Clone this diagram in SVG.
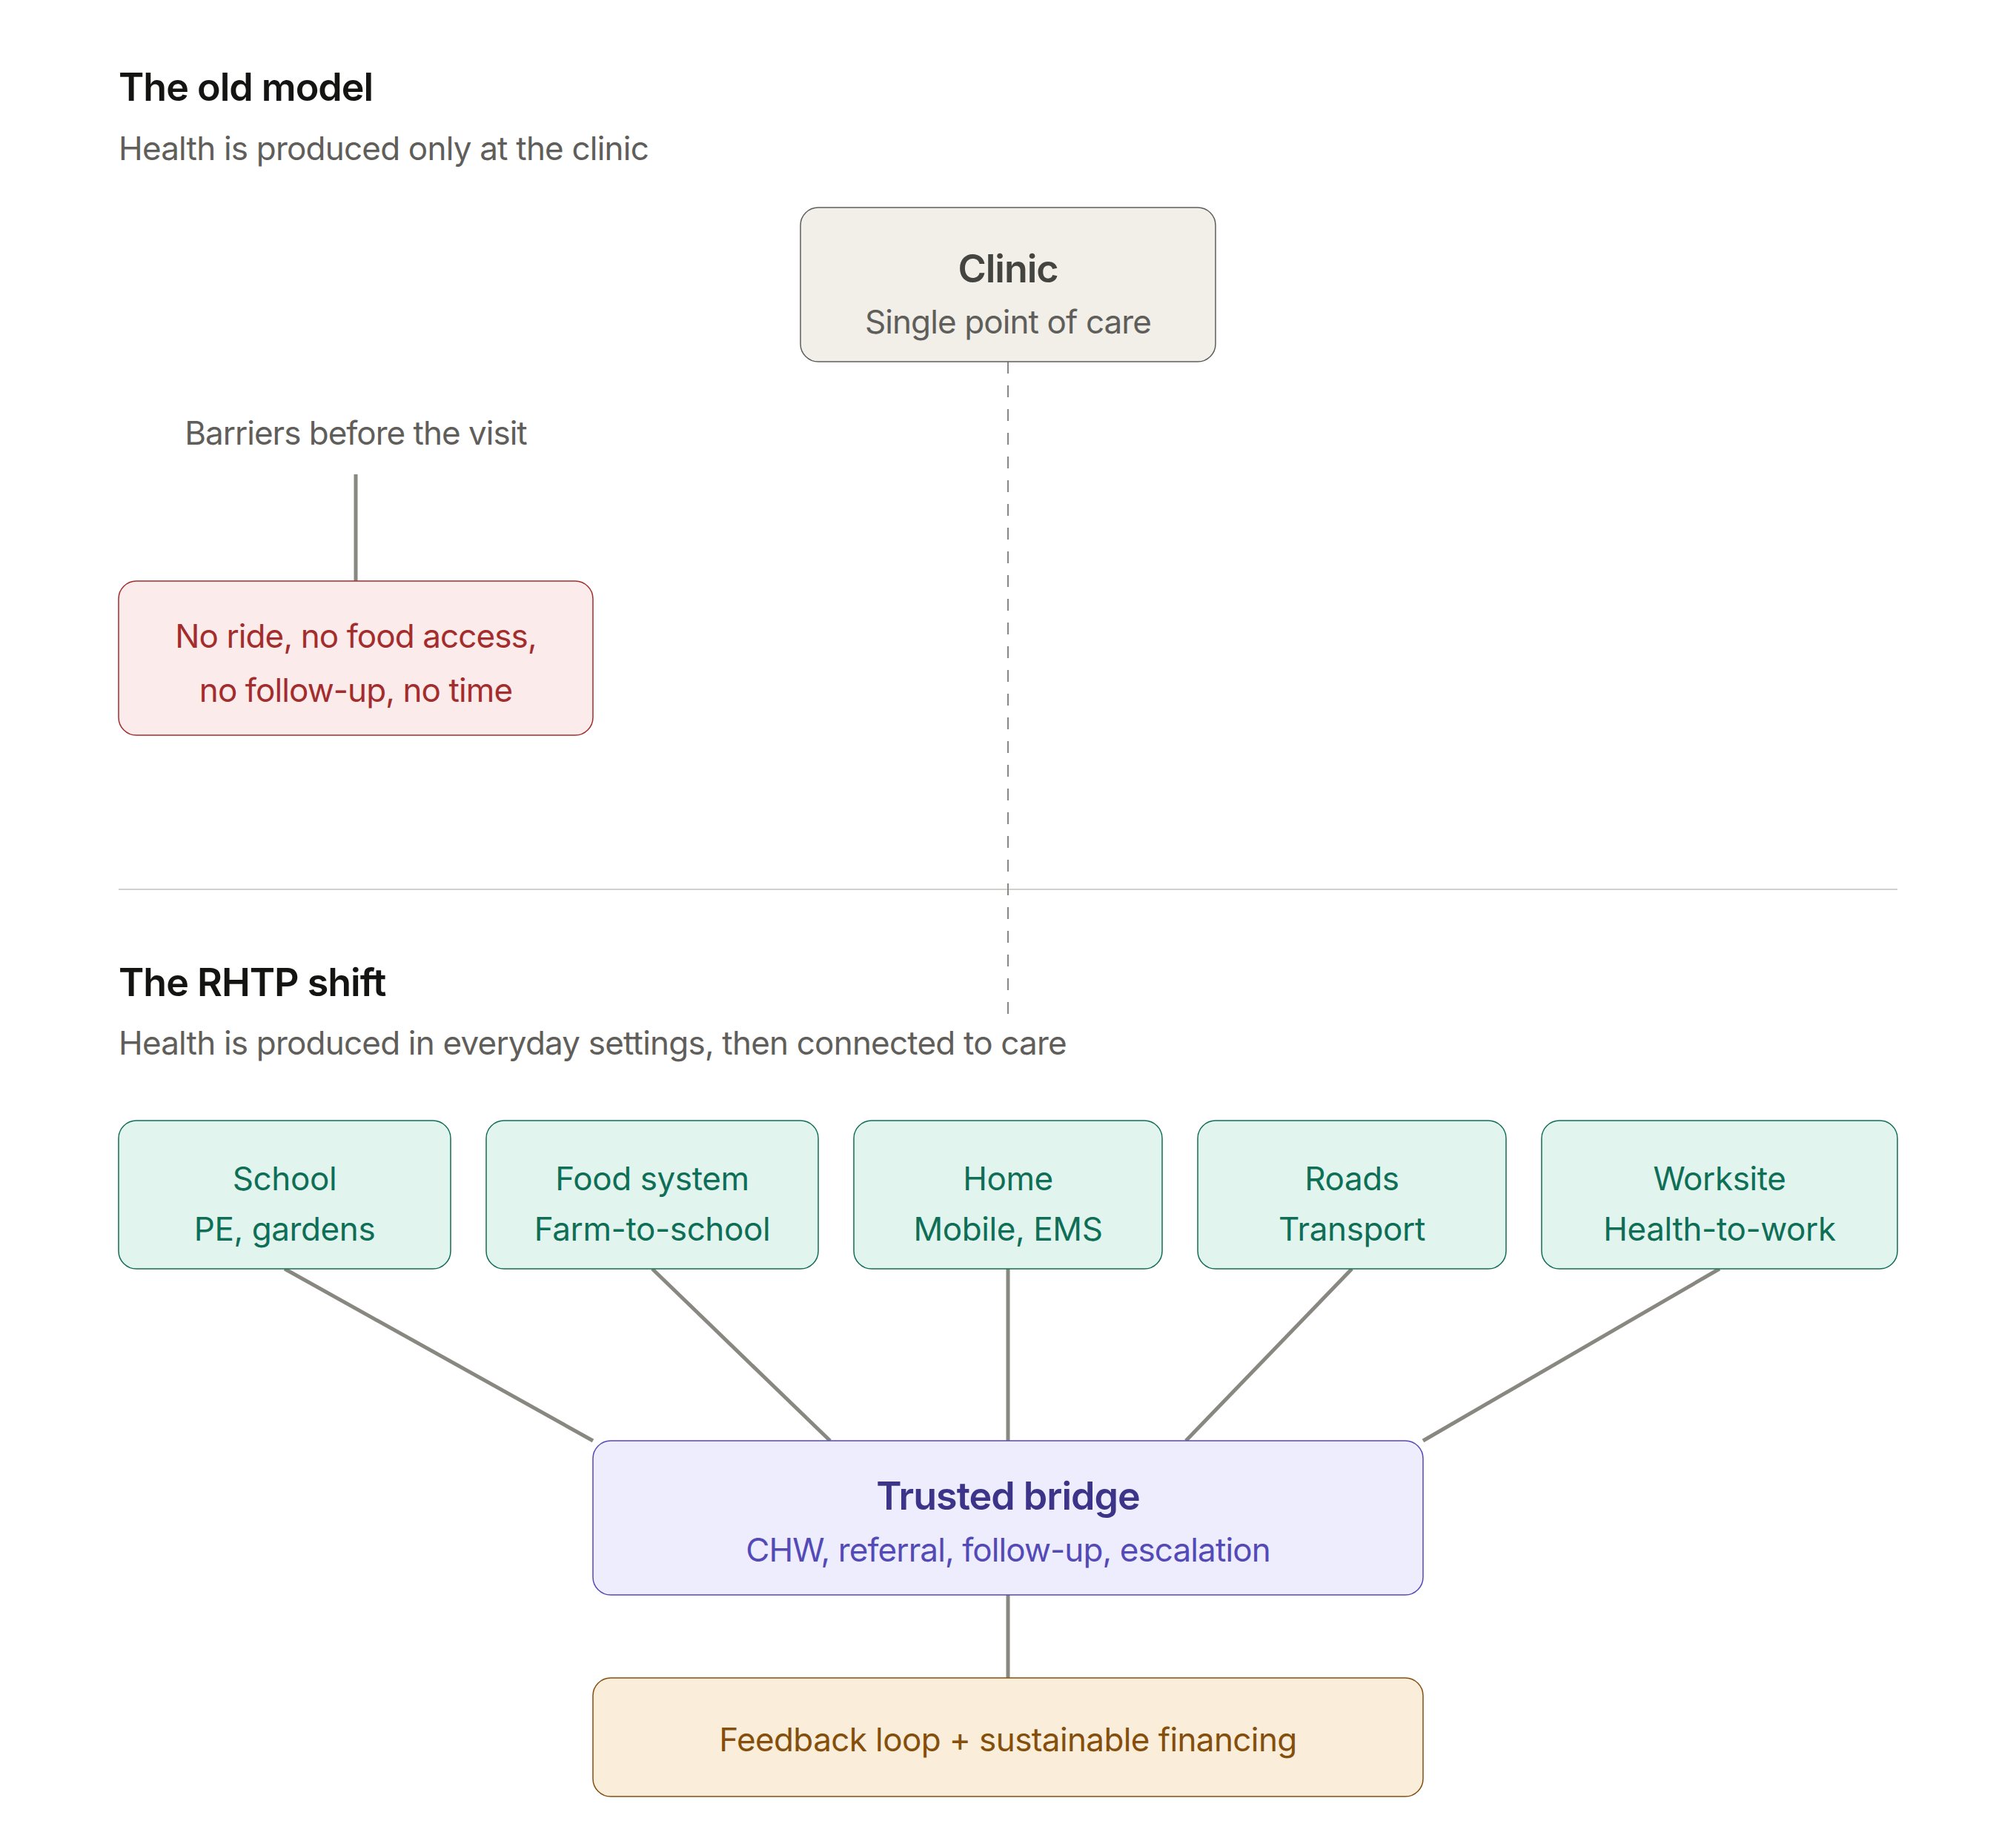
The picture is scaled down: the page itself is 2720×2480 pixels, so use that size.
<svg xmlns="http://www.w3.org/2000/svg" width="2720" height="2480" viewBox="0 0 2720 2480">
<style>
text{font-family:Inter,"Noto Sans","Liberation Sans",sans-serif}
.h{font-size:52px;font-weight:600;fill:#141413;letter-spacing:-1px}
.s{font-size:44px;fill:#5F5E5A;letter-spacing:-0.8px}
.c{text-anchor:middle}
.t{font-size:52px;font-weight:600;letter-spacing:-1px}
.b{font-size:44px;letter-spacing:-0.9px}
.con{stroke:#888780;stroke-width:5;fill:none}
.dash{stroke:#888780;stroke-width:2;stroke-dasharray:16 16;fill:none}
.gray rect{fill:#F1EFE8;stroke:#5F5E5A;stroke-width:1.5}
.red rect{fill:#FCEBEB;stroke:#A32D2D;stroke-width:1.5}
.red text{fill:#A32D2D}
.grn rect{fill:#E1F5EE;stroke:#0F6E56;stroke-width:1.5}
.grn text{fill:#0F6E56;letter-spacing:-0.4px}
.pur rect{fill:#EEEDFE;stroke:#534AB7;stroke-width:1.5}
.amb rect{fill:#FAEEDA;stroke:#854F0B;stroke-width:1.5}
.amb text{fill:#854F0B;letter-spacing:-0.6px}
</style>
<rect width="2720" height="2480" fill="#FFFFFF"/>
<g id="headings">
<text class="h" x="160" y="136">The old model</text>
<text class="s" x="160" y="216">Health is produced only at the clinic</text>
<text class="s c" x="480" y="600" style="letter-spacing:-1px">Barriers before the visit</text>
<line x1="160" y1="1200" x2="2560" y2="1200" stroke="#C4C2BA" stroke-width="1.5"/>
<text class="h" x="160" y="1344">The RHTP shift</text>
<text class="s" x="160" y="1423">Health is produced in everyday settings, then connected to care</text>
</g>
<g id="connectors">
<line class="dash" x1="1360" y1="488" x2="1360" y2="1368"/>
<line class="con" x1="480" y1="640" x2="480" y2="784"/>
<line class="con" x1="384" y1="1712" x2="800" y2="1944"/>
<line class="con" x1="880" y1="1712" x2="1120" y2="1944"/>
<line class="con" x1="1360" y1="1712" x2="1360" y2="1944"/>
<line class="con" x1="1824" y1="1712" x2="1600" y2="1944"/>
<line class="con" x1="2320" y1="1712" x2="1920" y2="1944"/>
<line class="con" x1="1360" y1="2152" x2="1360" y2="2264"/>
</g>
<g id="clinic" class="gray">
<rect x="1080" y="280" width="560" height="208" rx="24"/>
<text class="t c" x="1360" y="381" fill="#444441">Clinic</text>
<text class="b c" x="1360" y="450" fill="#5F5E5A">Single point of care</text>
</g>
<g id="barriers" class="red">
<rect x="160" y="784" width="640" height="208" rx="24"/>
<text class="b c" x="480" y="874">No ride, no food access,</text>
<text class="b c" x="480" y="947">no follow-up, no time</text>
</g>
<g id="school" class="grn">
<rect x="160" y="1512" width="448" height="200" rx="24"/>
<text class="b c" x="384" y="1606">School</text>
<text class="b c" x="384" y="1674">PE, gardens</text>
</g>
<g id="food" class="grn">
<rect x="656" y="1512" width="448" height="200" rx="24"/>
<text class="b c" x="880" y="1606">Food system</text>
<text class="b c" x="880" y="1674">Farm-to-school</text>
</g>
<g id="home" class="grn">
<rect x="1152" y="1512" width="416" height="200" rx="24"/>
<text class="b c" x="1360" y="1606">Home</text>
<text class="b c" x="1360" y="1674">Mobile, EMS</text>
</g>
<g id="roads" class="grn">
<rect x="1616" y="1512" width="416" height="200" rx="24"/>
<text class="b c" x="1824" y="1606">Roads</text>
<text class="b c" x="1824" y="1674">Transport</text>
</g>
<g id="worksite" class="grn">
<rect x="2080" y="1512" width="480" height="200" rx="24"/>
<text class="b c" x="2320" y="1606">Worksite</text>
<text class="b c" x="2320" y="1674">Health-to-work</text>
</g>
<g id="bridge" class="pur">
<rect x="800" y="1944" width="1120" height="208" rx="24"/>
<text class="t c" x="1360" y="2037" fill="#3C3489">Trusted bridge</text>
<text class="b c" x="1360" y="2107" fill="#534AB7">CHW, referral, follow-up, escalation</text>
</g>
<g id="feedback" class="amb">
<rect x="800" y="2264" width="1120" height="160" rx="24"/>
<text class="b c" x="1360" y="2363">Feedback loop + sustainable financing</text>
</g>
</svg>
